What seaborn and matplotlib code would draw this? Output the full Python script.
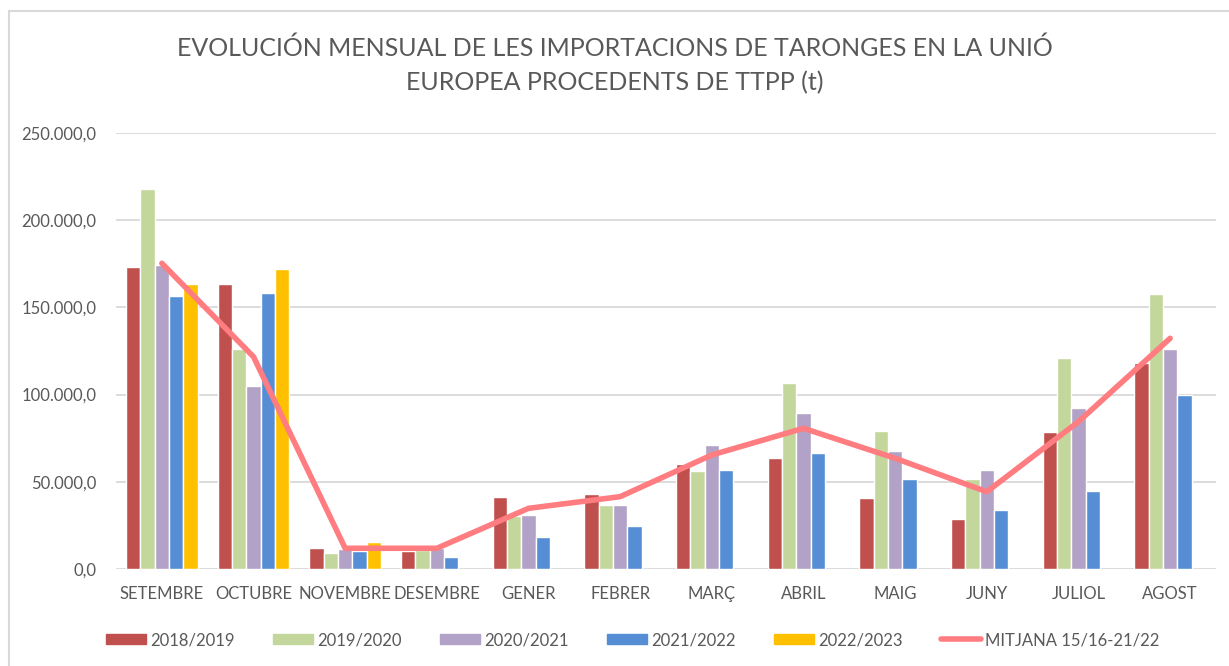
import numpy as np
import pandas as pd
import matplotlib
matplotlib.use('Agg')
import matplotlib.pyplot as plt
import seaborn as sns
from matplotlib.lines import Line2D
from matplotlib.patches import Rectangle
from matplotlib.ticker import FuncFormatter

# Dades llegides del gràfic (tones)
mesos = ['SETEMBRE', 'OCTUBRE', 'NOVEMBRE', 'DESEMBRE', 'GENER', 'FEBRER',
         'MARÇ', 'ABRIL', 'MAIG', 'JUNY', 'JULIOL', 'AGOST']
campanyes = ['2018/2019', '2019/2020', '2020/2021', '2021/2022', '2022/2023']
v_1819 = [173300, 163200, 12200, 10500, 41500, 42800, 60200, 63500, 40900, 28500, 78400, 118300]
v_1920 = [217700, 126100, 9400, 11000, 30500, 36700, 56200, 106500, 79000, 51400, 120800, 157700]
v_2021 = [174300, 105100, 11500, 12000, 31000, 36700, 70900, 89600, 67800, 56600, 92100, 126000]
v_2122 = [156400, 158300, 10500, 6700, 18500, 24800, 56800, 66500, 51600, 33700, 44700, 99600]
v_2223 = [163200, 172000, 15300, np.nan, np.nan, np.nan, np.nan, np.nan, np.nan, np.nan, np.nan, np.nan]
mitjana = [175300, 121700, 11900, 11900, 34800, 41500, 65400, 80700, 63500, 44300, 84500, 132300]
etiqueta_mitjana = 'MITJANA 15/16-21/22'

colors = ['#C0504D', '#C3D69B', '#B2A2C7', '#558ED5', '#FFC000']
color_linia = '#FF7C80'
gris = '#595959'

# Taula llarga per a seaborn
df = pd.DataFrame({'Mes': mesos * 5,
                   'Campanya': np.repeat(campanyes, len(mesos)),
                   'Tones': v_1819 + v_1920 + v_2021 + v_2122 + v_2223}).dropna()

sns.set_style('white')
plt.rcParams['font.family'] = ['Lato', 'DejaVu Sans']

fig = plt.figure(figsize=(12.29, 6.66), dpi=100)
ax = fig.add_axes([0.0944, 0.1456, 0.895, 0.6547])

sns.barplot(data=df, x='Mes', y='Tones', hue='Campanya', order=mesos, hue_order=campanyes,
            palette=colors, width=0.78, gap=0, saturation=1, ax=ax, legend=False, zorder=2)
sns.pointplot(x=mesos, y=mitjana, order=mesos, color=color_linia, markers='', errorbar=None,
              linewidth=4, ax=ax, zorder=3)
for l in ax.lines:
    l.set_solid_capstyle('round')

ax.set_ylim(0, 250000)
ax.set_yticks(np.arange(0, 250001, 50000))
ax.yaxis.set_major_formatter(FuncFormatter(lambda v, p: f'{v:,.1f}'.replace(',', 'X').replace('.', ',').replace('X', '.')))
ax.grid(axis='y', color='#D9D9D9', linewidth=1.3, zorder=0)
ax.set_axisbelow(True)
sns.despine(ax=ax, left=True, bottom=True)
ax.tick_params(axis='both', length=0, labelsize=12, labelcolor=gris)
ax.tick_params(axis='x', pad=12)
ax.tick_params(axis='y', pad=14)
ax.set_xlabel('')
ax.set_ylabel('')
ax.set_xlim(-0.5, 11.5)

fig.suptitle('EVOLUCIÓN MENSUAL DE LES IMPORTACIONS DE TARONGES EN LA UNIÓ\nEUROPEA PROCEDENTS DE TTPP (t)',
             y=0.945, fontsize=18, color=gris, linespacing=1.55)

# Llegenda inferior
handles = [Rectangle((0, 0), 1, 1, color=c) for c in colors]
handles.append(Line2D([0], [0], color=color_linia, linewidth=4, solid_capstyle='round'))
fig.legend(handles, campanyes + [etiqueta_mitjana], loc='center', bbox_to_anchor=(0.515, 1 - 640 / 666),
           ncol=6, frameon=False, fontsize=12, labelcolor=gris, handlelength=2.4, handleheight=0.6,
           handletextpad=0.25, columnspacing=2.3)

# Marc del gràfic
fig.add_artist(Rectangle((9 / 1229, -0.1), 1.2, 1.1 - 11 / 666, transform=fig.transFigure,
                         fill=False, edgecolor='#D9D9D9', linewidth=1.5))

fig.savefig('out.png', dpi=100)
